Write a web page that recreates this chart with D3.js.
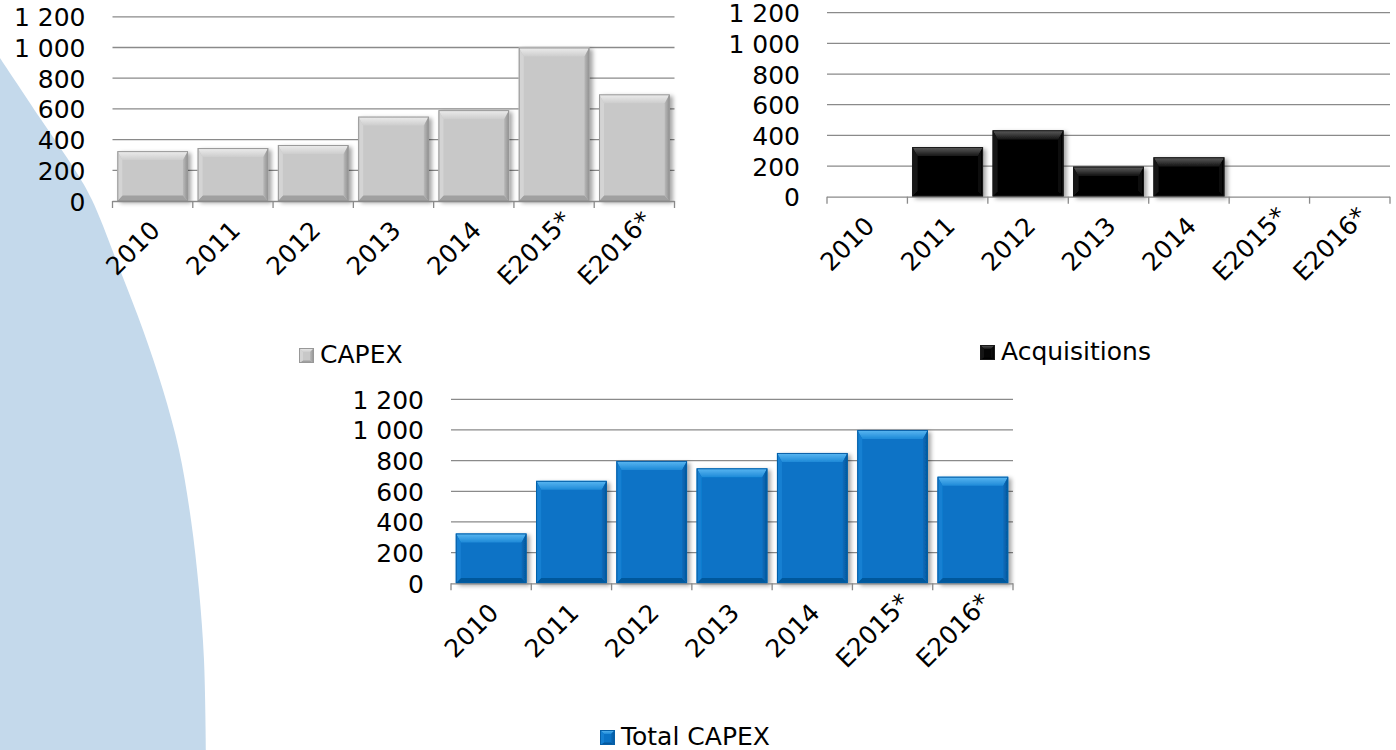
<!DOCTYPE html>
<html>
<head>
<meta charset="utf-8">
<script src="https://cdn.jsdelivr.net/npm/d3@7/dist/d3.min.js"></script>
<style>
  html, body { margin: 0; padding: 0; background: #ffffff; }
  svg { display: block; }
</style>
</head>
<body>
<svg id="chart" width="1396" height="750"></svg>
<script>
// Categories and series (millions)
const years = ["2010", "2011", "2012", "2013", "2014", "E2015*", "E2016*"];
const capex = [325, 345, 365, 550, 592, 1000, 695];
const acquisitions = [null, 324, 433, 196, 257, null, null];
const totalCapex = [325, 668, 798, 750, 850, 1000, 695];

// Value axis
const yTicks = [0, 200, 400, 600, 800, 1000, 1200];
const yTickLabels = ["0", "200", "400", "600", "800", "1 000", "1 200"];

// Legend names
const seriesNames = ["CAPEX", "Acquisitions", "Total CAPEX"];

const svg = d3.select("#chart");
const defs = svg.append("defs");

// soft shadow under the bars
const shadow = defs.append("filter").attr("id", "barShadow")
  .attr("x", "-20%").attr("y", "-20%").attr("width", "140%").attr("height", "140%");
shadow.append("feDropShadow").attr("dx", 3).attr("dy", 2).attr("stdDeviation", 2)
  .attr("flood-color", "#000").attr("flood-opacity", 0.35);

// light blue decorative sweep on the left
const sweep = d3.line().curve(d3.curveCatmullRom.alpha(0.5));
const edge = [[0, 58], [40, 118], [75, 170], [92, 200], [120, 270], [143, 330],
              [163, 390], [179, 450], [191, 520], [199, 590], [204, 660], [206, 750]];
svg.append("path")
  .attr("d", sweep(edge) + "L0,750Z")
  .attr("fill", "#c4d9eb");

// bevel palettes
const palettes = {
  grey:  { face: "#c8c8c8", topA: "#ededed", topB: "#cdcdcd", left: "#d4d4d4", rightA: "#b9b9b9", rightB: "#8f8f8f", bottom: "#a0a0a0", stroke: "#989898" },
  black: { face: "#060606", topA: "#5e5e5e", topB: "#161616", left: "#151515", rightA: "#101010", rightB: "#000000", bottom: "#000000", stroke: "#1a1a1a" },
  blue:  { face: "#0a73c6", topA: "#5cb8f2", topB: "#1e8ad8", left: "#1580d2", rightA: "#0a6cbb", rightB: "#04559a", bottom: "#05589c", stroke: "#0660a8" }
};

Object.entries(palettes).forEach(([k, p]) => {
  const gt = defs.append("linearGradient").attr("id", "top-" + k)
    .attr("x1", 0).attr("y1", 0).attr("x2", 0).attr("y2", 1);
  gt.append("stop").attr("offset", "0%").attr("stop-color", p.topA);
  gt.append("stop").attr("offset", "100%").attr("stop-color", p.topB);
  const gr = defs.append("linearGradient").attr("id", "right-" + k)
    .attr("x1", 0).attr("y1", 0).attr("x2", 1).attr("y2", 0);
  gr.append("stop").attr("offset", "0%").attr("stop-color", p.rightA);
  gr.append("stop").attr("offset", "100%").attr("stop-color", p.rightB);
});

// draws a bevelled block
function bevelBlock(g, x, y, w, h, key, bt, bs) {
  const p = palettes[key];
  bt = Math.min(bt, h / 2); bs = Math.min(bs, w / 2);
  const grp = g.append("g");
  grp.append("rect").attr("x", x).attr("y", y).attr("width", w).attr("height", h).attr("fill", p.face);
  const poly = pts => pts.map(q => q.join(",")).join(" ");
  grp.append("polygon").attr("points", poly([[x, y], [x + w, y], [x + w - bs, y + bt], [x + bs, y + bt]]))
    .attr("fill", `url(#top-${key})`);
  grp.append("polygon").attr("points", poly([[x, y + h], [x + w, y + h], [x + w - bs, y + h - bt * 0.6], [x + bs, y + h - bt * 0.6]]))
    .attr("fill", p.bottom);
  grp.append("polygon").attr("points", poly([[x, y], [x + bs, y + bt], [x + bs, y + h - bt * 0.6], [x, y + h]]))
    .attr("fill", p.left);
  grp.append("polygon").attr("points", poly([[x + w, y], [x + w - bs, y + bt], [x + w - bs, y + h - bt * 0.6], [x + w, y + h]]))
    .attr("fill", `url(#right-${key})`);
  grp.append("rect").attr("x", x + 0.5).attr("y", y + 0.5).attr("width", w - 1).attr("height", h - 1)
    .attr("fill", "none").attr("stroke", p.stroke).attr("stroke-width", 1);
  return grp;
}

function drawChart(cfg) {
  const x = d3.scaleBand().domain(years).range([cfg.x0, cfg.x1])
    .paddingInner(0.12).paddingOuter(0.06);
  const y = d3.scaleLinear().domain([0, 1200]).range([cfg.base, cfg.top]);
  const g = svg.append("g");

  // horizontal gridlines
  g.selectAll("line.grid").data(yTicks.filter(t => t > 0)).join("line")
    .attr("x1", cfg.x0).attr("x2", cfg.x1)
    .attr("y1", d => y(d)).attr("y2", d => y(d))
    .attr("stroke", "#8a8a8a").attr("stroke-width", 1.3);

  // value axis labels
  const yAxis = d3.axisLeft(y).tickValues(yTicks)
    .tickFormat((d, i) => yTickLabels[i]).tickSize(0).tickPadding(27);
  const ya = g.append("g").attr("transform", `translate(${cfg.x0},0)`).call(yAxis);
  ya.select(".domain").remove();
  ya.selectAll("text").attr("font-family", "DejaVu Sans, Verdana, sans-serif")
    .attr("font-size", 25).attr("fill", "#000").attr("dy", "0.36em");

  // bars
  const bars = g.append("g").attr("filter", "url(#barShadow)");
  years.forEach((yr, i) => {
    const v = cfg.values[i];
    if (v == null) return;
    bevelBlock(bars, x(yr), y(v), x.bandwidth(), y(0) - y(v), cfg.key, 9, 5);
  });

  // category axis line and tick marks at band boundaries
  g.append("line").attr("x1", cfg.x0).attr("x2", cfg.x1)
    .attr("y1", cfg.base + 0.5).attr("y2", cfg.base + 0.5)
    .attr("stroke", "#8a8a8a").attr("stroke-width", 1.3);
  const bounds = years.map(yr => x(yr) - x.step() * x.paddingInner() / 2);
  bounds.push(cfg.x1);
  bounds[0] = cfg.x0;
  g.selectAll("line.tk").data(bounds).join("line")
    .attr("x1", d => d).attr("x2", d => d)
    .attr("y1", cfg.base).attr("y2", cfg.base + 7)
    .attr("stroke", "#8a8a8a").attr("stroke-width", 1.3);

  // rotated category labels, centred below each band
  g.selectAll("text.cat").data(years).join("text")
    .attr("transform", d => `translate(${x(d) + x.bandwidth() / 2 - 20},${cfg.base + 47}) rotate(-45)`)
    .attr("text-anchor", "middle").attr("dy", "0.36em")
    .attr("font-family", "DejaVu Sans, Verdana, sans-serif")
    .attr("font-size", 25).attr("fill", "#000")
    .text(d => d);

  // legend
  const lg = svg.append("g");
  bevelBlock(lg, cfg.legendX, cfg.legendY - 15, 15, 15, cfg.key, 4, 4);
  lg.append("text").attr("x", cfg.legendX + 21).attr("y", cfg.legendY)
    .attr("font-family", "DejaVu Sans, Verdana, sans-serif")
    .attr("font-size", 25).attr("fill", "#000")
    .text(cfg.name);
}

drawChart({ values: capex, key: "grey", name: seriesNames[0],
  x0: 112.5, x1: 674.5, top: 16.8, base: 201, legendX: 299, legendY: 363 });
drawChart({ values: acquisitions, key: "black", name: seriesNames[1],
  x0: 827, x1: 1390, top: 12.7, base: 196.7, legendX: 980, legendY: 360 });
drawChart({ values: totalCapex, key: "blue", name: seriesNames[2],
  x0: 451, x1: 1013, top: 399.3, base: 583.3, legendX: 600, legendY: 745 });
</script>
</body>
</html>
